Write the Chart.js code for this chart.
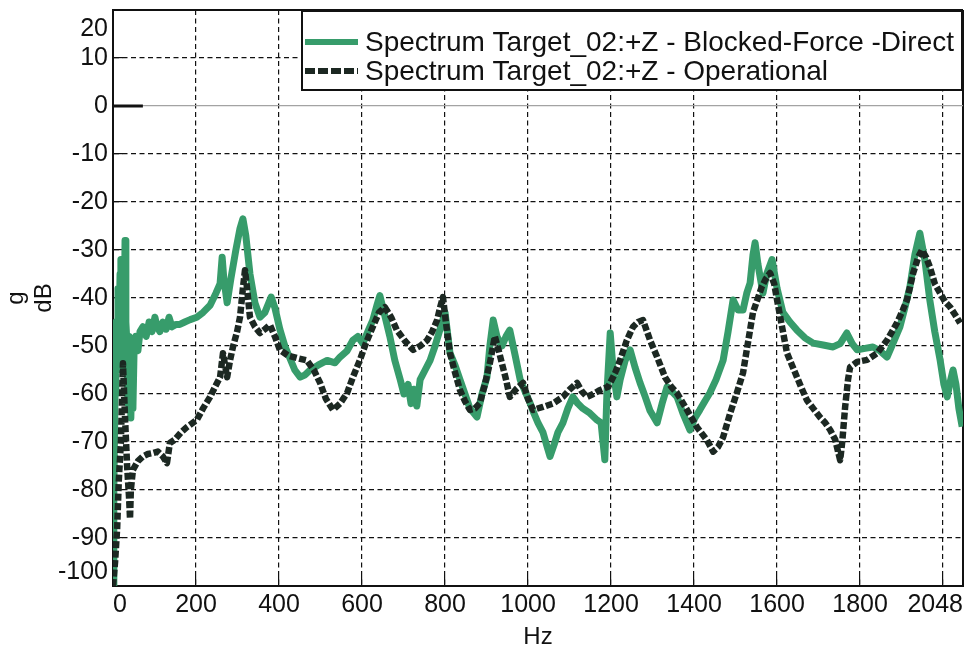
<!DOCTYPE html>
<html>
<head>
<meta charset="utf-8">
<script src="https://cdn.jsdelivr.net/npm/chart.js@4/dist/chart.umd.min.js"></script>
<style>
  html, body { margin: 0; padding: 0; background: #fff; }
  canvas { display: block; }
</style>
</head>
<body>
<canvas id="spectrum" width="966" height="652"></canvas>
<script>
// Blocked-force (direct) spectrum: frequency [Hz] and level [dB re g]
const blockedHz = [0,2,5,7,10,12,14,17,19,22,24,26,29,31,34,36,39,41,43,46,48,51,55,60,65,72,80,87,94,101,106,113,120,128,135,142,152,161,173,186,202,217,234,248,258,263,267,275,284,296,306,313,320,330,342,354,366,381,390,402,414,426,438,451,463,475,494,516,535,547,564,578,590,602,614,626,636,643,653,667,679,692,701,711,718,725,732,740,752,764,776,788,800,812,824,836,848,860,877,889,901,908,916,925,937,947,956,969,981,993,1005,1014,1024,1036,1046,1053,1063,1072,1084,1096,1108,1120,1132,1149,1166,1176,1185,1190,1198,1205,1214,1222,1234,1246,1258,1270,1282,1294,1311,1323,1335,1347,1359,1373,1390,1402,1414,1426,1438,1453,1470,1482,1494,1506,1518,1527,1535,1542,1547,1554,1566,1575,1588,1600,1614,1631,1648,1667,1687,1711,1735,1752,1768,1781,1793,1812,1831,1848,1865,1879,1896,1908,1920,1932,1944,1956,1968,1980,1993,2002,2010,2017,2024,2031,2038,2046];
const blockedDb = [-100,-80,-60,-45,-55,-38,-50,-35,-32,-48,-40,-55,-28,-45,-50,-62,-48,-58,-65,-52,-63,-50,-48,-51,-47,-46,-48,-45,-47,-44,-46,-47,-45,-46.5,-44,-46,-45.5,-45.5,-45,-44.5,-44,-43,-41.5,-39,-37,-31.5,-36,-41,-36,-30,-25.5,-23.5,-27,-35,-41,-44,-43,-39.8,-42,-46.5,-50,-52.5,-55,-56.5,-56,-55,-54,-53,-53.5,-52.3,-51,-48.8,-48,-49.5,-47,-44.6,-41.5,-39.5,-43,-48,-53,-57,-60,-58,-62,-59,-62.5,-57,-55,-53,-50,-46.5,-43,-51.5,-54,-57,-60,-63,-64.8,-60,-56.5,-50,-44.6,-48,-50,-48,-46.7,-52,-57,-59.5,-61.9,-64,-66,-68,-71,-73,-70.5,-68,-66,-63,-60.6,-62,-63,-64,-65.4,-66,-73.7,-60,-47.3,-55,-60.6,-57,-53,-50.8,-54.5,-57.7,-60.5,-63.5,-66,-62,-58.5,-59.5,-60.6,-64,-67.5,-65,-63.3,-61.5,-59.8,-57,-53,-47,-40.4,-42.5,-42.5,-39,-36.9,-31,-28.5,-33,-39,-35,-32,-38,-43,-45,-46.7,-48.3,-49.4,-49.8,-50.2,-49.5,-47.3,-49.5,-50.8,-50.5,-50.2,-51,-52.3,-49.5,-46,-42,-37.7,-31,-26.5,-32,-40.4,-47,-53,-58,-60.6,-57.5,-55,-58,-63,-66.8];

// Operational spectrum: frequency [Hz] and level [dB re g]
const operHz = [0,5,10,14,19,22,24,26,29,34,39,41,43,48,60,72,84,96,108,120,130,137,149,164,178,202,217,234,246,258,265,275,282,289,299,306,313,318,323,330,342,354,366,378,390,402,422,443,467,484,499,513,530,547,564,578,595,609,626,641,655,670,684,704,723,740,757,769,781,788,795,802,812,824,836,848,860,872,884,896,908,920,928,937,947,956,971,988,1000,1012,1036,1060,1084,1101,1118,1130,1142,1157,1173,1193,1210,1222,1238,1253,1265,1277,1294,1311,1330,1345,1359,1383,1407,1431,1446,1458,1470,1487,1503,1518,1527,1542,1554,1563,1573,1583,1593,1600,1612,1624,1636,1648,1660,1672,1687,1703,1716,1728,1740,1747,1752,1757,1764,1771,1776,1793,1817,1841,1865,1889,1903,1913,1928,1940,1949,1959,1968,1980,1993,2005,2017,2029,2041];
const operDb = [-100,-95,-88,-78,-70,-60,-53.6,-58,-65,-75,-82,-86,-80,-75.8,-74,-73,-72.5,-72.3,-72,-73,-74.4,-70.2,-69.5,-68,-66.9,-65.4,-63,-60.6,-58.5,-56.5,-51.5,-56.5,-53,-50.2,-47,-44,-38,-34.2,-38,-44,-46,-47.3,-46.5,-45.6,-48,-50.8,-52,-52.5,-53,-55,-57.7,-61,-63.3,-62,-59.8,-56.5,-52.9,-49.5,-46,-43,-41.9,-44,-46.7,-49,-50.8,-50,-48.8,-47,-44.6,-42,-39.8,-45,-51.5,-55.5,-59.2,-61.5,-63.3,-63,-61.9,-58,-53.6,-48,-50.5,-53.6,-57,-60.6,-59,-57.7,-61,-63.3,-62.7,-62,-60.6,-59,-57.7,-59.5,-60.6,-60,-59.2,-58.5,-55.6,-52.9,-48.8,-46,-45,-44.6,-48.8,-52.3,-56.5,-58.5,-59.8,-63.3,-66.9,-69.6,-72,-71,-69,-64,-59.8,-55.6,-50.8,-43,-40,-37.7,-36,-34.8,-37,-40.4,-46,-51.5,-54,-56.5,-59,-61.3,-63,-64.8,-66,-67.5,-69.5,-72,-73.8,-70,-62.7,-57,-54.4,-53.3,-52.9,-51.5,-48.8,-45.2,-42.5,-40.4,-34.8,-31.5,-30,-31.5,-33.5,-37,-39,-40.8,-41.9,-43.5,-45.2];

// Short reference stroke on the 0 dB line
const zeroMarkHz = [0, 72];
const zeroMarkDb = [0, 0];

// Axis ticks
const xTickValues = [0, 200, 400, 600, 800, 1000, 1200, 1400, 1600, 1800, 2000, 2048];
const xTickLabels = ['0', '200', '400', '600', '800', '1000', '1200', '1400', '1600', '1800', '', '2048'];
const yTickValues = [-100, -90, -80, -70, -60, -50, -40, -30, -20, -10, 0, 10, 20];
const xMin = 0, xMax = 2048, yMin = -100, yMax = 20;

const seriesNames = [
  'Spectrum Target_02:+Z - Blocked-Force -Direct',
  'Spectrum Target_02:+Z - Operational'
];

const GREEN = '#379c6b';
const DARK = '#1c2822';
const INK = '#111';
const FONT = '"Liberation Sans", Arial, Helvetica, sans-serif';

const toPoints = (xs, ys) => xs.map((x, i) => ({ x, y: ys[i] }));

const isEdge = (v, lo, hi) => v === lo || v === hi;

// Top/bottom y labels sit inside the frame instead of on their lines
const edgeLabels = {
  id: 'edgeLabels',
  afterDraw(chart) {
    const { ctx } = chart;
    const y = chart.scales.y;
    ctx.save();
    ctx.font = `25px ${FONT}`;
    ctx.fillStyle = INK;
    ctx.textAlign = 'right';
    ctx.textBaseline = 'middle';
    ctx.fillText(String(yMax), y.right - 5, y.getPixelForValue(yMax) + 19);
    ctx.fillText(String(yMin), y.right - 5, y.getPixelForValue(yMin) - 14);
    ctx.restore();
  }
};

// Boxed key in the upper right corner of the plot
const keyBox = {
  id: 'keyBox',
  afterDraw(chart) {
    const { ctx, chartArea } = chart;
    const left = 302, top = chartArea.top + 1, right = chartArea.right - 1, bottom = 90;
    ctx.save();
    ctx.fillStyle = '#fff';
    ctx.fillRect(left, top, right - left, bottom - top);
    ctx.lineWidth = 2;
    ctx.strokeStyle = INK;
    ctx.strokeRect(left, top, right - left, bottom - top);
    chart.data.datasets.filter(ds => ds.inKey).forEach((ds, i) => {
      const cy = 42 + i * 29;
      ctx.beginPath();
      ctx.setLineDash(ds.keyDash || []);
      ctx.lineWidth = 6;
      ctx.strokeStyle = ds.borderColor;
      ctx.moveTo(305, cy);
      ctx.lineTo(358, cy);
      ctx.stroke();
      ctx.setLineDash([]);
      ctx.fillStyle = INK;
      ctx.font = `28px ${FONT}`;
      ctx.textAlign = 'left';
      ctx.textBaseline = 'middle';
      ctx.fillText(ds.label, 365, cy + 1);
    });
    ctx.restore();
  }
};

new Chart(document.getElementById('spectrum'), {
  type: 'line',
  data: {
    datasets: [
      {
        label: seriesNames[0],
        inKey: true,
        data: toPoints(blockedHz, blockedDb),
        borderColor: GREEN,
        borderWidth: 7,
        borderJoinStyle: 'round',
        pointRadius: 0,
        tension: 0,
        order: 2
      },
      {
        label: seriesNames[1],
        inKey: true,
        keyDash: [10, 3],
        data: toPoints(operHz, operDb),
        borderColor: DARK,
        borderWidth: 6.5,
        borderDash: [7, 2.5],
        borderCapStyle: 'butt',
        borderJoinStyle: 'round',
        pointRadius: 0,
        tension: 0,
        order: 1
      },
      {
        label: 'zero',
        data: toPoints(zeroMarkHz, zeroMarkDb),
        borderColor: INK,
        borderWidth: 3,
        pointRadius: 0,
        order: 0
      }
    ]
  },
  options: {
    responsive: false,
    animation: false,
    events: [],
    layout: { padding: { top: 10, right: 3, left: 0, bottom: 0 } },
    plugins: { legend: { display: false }, tooltip: { enabled: false } },
    scales: {
      x: {
        type: 'linear',
        min: xMin,
        max: xMax,
        afterBuildTicks: s => { s.ticks = xTickValues.map(v => ({ value: v })); },
        afterFit: s => { s.height = 66; s.paddingLeft = 0; s.paddingRight = 0; },
        ticks: {
          autoSkip: false,
          maxRotation: 0,
          minRotation: 0,
          align: 'inner',
          padding: 15,
          color: INK,
          font: { family: FONT, size: 25, lineHeight: 1.15 },
          callback: (v, i) => xTickLabels[i]
        },
        grid: {
          color: INK,
          lineWidth: c => (c.tick && isEdge(c.tick.value, xMin, xMax)) ? 2 : 1.2,
          drawTicks: true,
          tickLength: -10,
          tickColor: INK,
          tickWidth: 1.2,
          tickBorderDash: []
        },
        border: {
          display: true,
          color: INK,
          width: 2,
          dash: c => (c.tick && !isEdge(c.tick.value, xMin, xMax)) ? [5, 3.5] : []
        },
        title: {
          display: true,
          text: 'Hz',
          color: INK,
          font: { family: FONT, size: 24, lineHeight: 1.15 },
          padding: { top: 0, bottom: 1 }
        }
      },
      y: {
        type: 'linear',
        min: yMin,
        max: yMax,
        afterBuildTicks: s => { s.ticks = yTickValues.map(v => ({ value: v })); },
        afterFit: s => { s.width = 113; s.paddingTop = 0; s.paddingBottom = 0; },
        ticks: {
          autoSkip: false,
          padding: 15,
          color: INK,
          font: { family: FONT, size: 25, lineHeight: 1.15 },
          callback: v => isEdge(v, yMin, yMax) ? '' : String(v)
        },
        grid: {
          color: c => (c.tick && c.tick.value === 0) ? '#a3a3a3' : INK,
          lineWidth: c => (c.tick && isEdge(c.tick.value, yMin, yMax)) ? 2 : 1.2,
          drawTicks: true,
          tickLength: -10,
          tickColor: INK,
          tickWidth: 1.2,
          tickBorderDash: []
        },
        border: {
          display: true,
          color: INK,
          width: 2,
          dash: c => (c.tick && !isEdge(c.tick.value, yMin, yMax) && c.tick.value !== 0) ? [5, 3.5] : []
        },
        title: {
          display: true,
          text: ['g', 'dB'],
          color: INK,
          font: { family: FONT, size: 24, lineHeight: 1.15 },
          padding: { top: 3, bottom: 0 }
        }
      }
    }
  },
  plugins: [edgeLabels, keyBox]
});
</script>
</body>
</html>
